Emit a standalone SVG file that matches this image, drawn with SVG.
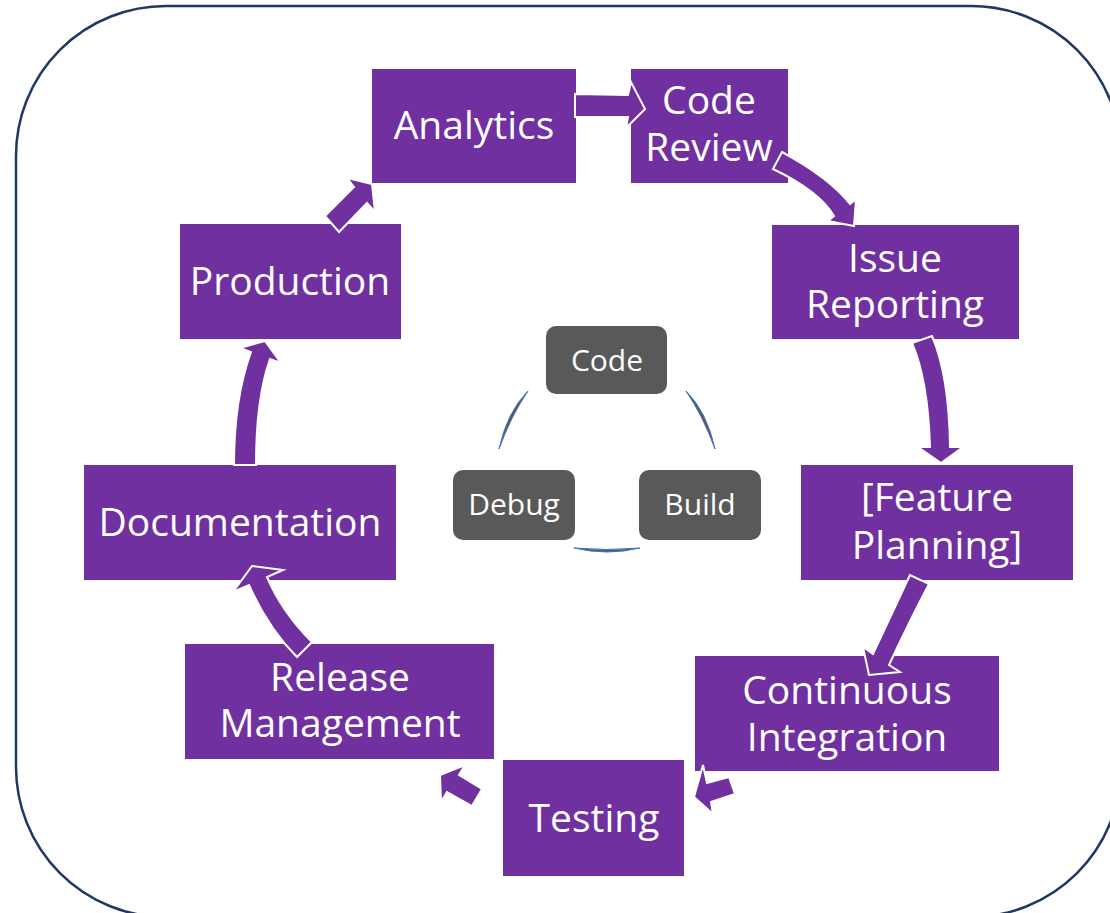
<svg xmlns="http://www.w3.org/2000/svg" width="1110" height="913" viewBox="0 0 1110 913">
  <style>
    .box { fill: #7030A0; }
    .lbl { fill: #FFFFFF; font-family: "Open Sans", "Noto Sans", sans-serif; font-size: 39px; text-anchor: middle; }
    .core { fill: #595959; }
    .clbl { fill: #FFFFFF; font-family: "Open Sans", "Noto Sans", sans-serif; font-size: 30px; text-anchor: middle; }
    .arr { fill: #7030A0; stroke: #FFFFFF; stroke-width: 2; stroke-linejoin: miter; }
    .link { fill: #595959; stroke: #4472C4; stroke-width: 1; }
  </style>

  <!-- outer frame -->
  <rect x="16" y="6" width="1105" height="911" rx="150" ry="150" fill="#FFFFFF" stroke="#1F3864" stroke-width="2.5"/>

  <!-- outer cycle stages -->
  <g id="analytics">
    <rect class="box" x="372" y="69" width="204" height="114"/>
    <text class="lbl" x="474" y="139">Analytics</text>
  </g>
  <g id="code-review">
    <rect class="box" x="631" y="69" width="157" height="114"/>
    <text class="lbl" x="709" y="114">Code</text>
    <text class="lbl" x="709" y="161">Review</text>
  </g>
  <g id="issue-reporting">
    <rect class="box" x="772" y="225" width="247" height="114"/>
    <text class="lbl" x="895" y="272">Issue</text>
    <text class="lbl" x="895" y="318">Reporting</text>
  </g>
  <g id="feature-planning">
    <rect class="box" x="801" y="465" width="272" height="115"/>
    <text class="lbl" x="937" y="511">[Feature</text>
    <text class="lbl" x="937" y="559">Planning]</text>
  </g>
  <g id="continuous-integration">
    <rect class="box" x="695" y="656" width="304" height="115"/>
    <text class="lbl" x="847" y="704">Continuous</text>
    <text class="lbl" x="847" y="751">Integration</text>
  </g>
  <g id="testing">
    <rect class="box" x="503" y="760" width="181" height="116"/>
    <text class="lbl" x="594" y="832">Testing</text>
  </g>
  <g id="release-management">
    <rect class="box" x="185" y="644" width="309" height="115"/>
    <text class="lbl" x="340" y="691">Release</text>
    <text class="lbl" x="340" y="737">Management</text>
  </g>
  <g id="documentation">
    <rect class="box" x="84" y="465" width="312" height="115"/>
    <text class="lbl" x="240" y="536">Documentation</text>
  </g>
  <g id="production">
    <rect class="box" x="180" y="224" width="221" height="115"/>
    <text class="lbl" x="290" y="295">Production</text>
  </g>

  <!-- block arrows between stages -->
  <g id="connectors">
    <!-- Analytics to Code Review -->
    <path class="arr" d="M575,94 L628,95 L631,82 L645,109 L626,128 L628,117 L575,117 Z"/>
    <!-- Code Review to Issue Reporting -->
    <path class="arr" d="M782,152 Q830,178 850,204 L856,199 L854,226 L828,221 L834,216 Q819,191 773,169 Z"/>
    <!-- Issue Reporting to Feature Planning -->
    <path class="arr" d="M932,336 Q949,375 950,447 L963,447 L941,463 L918,447 L930,447 Q928,380 912,343 Z"/>
    <!-- Feature Planning to Continuous Integration -->
    <path class="arr" d="M910,575 Q893,611 873,654 L863,647 L869,675 L900,672 L889,665 Q910,620 929,584 Z"/>
    <!-- Continuous Integration to Testing -->
    <path class="arr" d="M729,777 L707,783 L703,765 L694,797 L713,814 L711,802 L735,794 Z"/>
    <!-- Testing to Release Management -->
    <path class="arr" d="M482,789 L459,775 L465,765 L440,775 L441,802 L447,792 L472,806 Z"/>
    <!-- Release Management to Documentation -->
    <path class="arr" d="M312,642 Q282,612 267,577 L283,570 L252,566 L233,592 L249,585 Q268,628 297,657 Z"/>
    <!-- Documentation to Production -->
    <path class="arr" d="M234,465 Q234,399 251,352 L240,348 L265,341 L281,363 L270,359 Q256,398 256,465 Z"/>
    <!-- Production to Analytics -->
    <path class="arr" d="M325,216 L354,187 L347,178 L372,184 L375,212 L367,203 L339,232 Z"/>

    <!-- inner cycle links -->
    <path class="link" d="M528,391 Q507,412 499,449 Q511,416 528,391 Z"/>
    <path class="link" d="M686,391 Q707,412 715,449 Q703,416 686,391 Z"/>
    <path class="link" d="M574,548 Q607,556 640,548 Q607,551 574,548 Z"/>
  </g>

  <!-- inner cycle -->
  <g id="code">
    <rect class="core" x="546" y="326" width="121" height="68" rx="10"/>
    <text class="clbl" x="607" y="371">Code</text>
  </g>
  <g id="debug">
    <rect class="core" x="453" y="470" width="122" height="70" rx="10"/>
    <text class="clbl" x="514" y="515">Debug</text>
  </g>
  <g id="build">
    <rect class="core" x="639" y="470" width="122" height="70" rx="10"/>
    <text class="clbl" x="700" y="515">Build</text>
  </g>
</svg>
